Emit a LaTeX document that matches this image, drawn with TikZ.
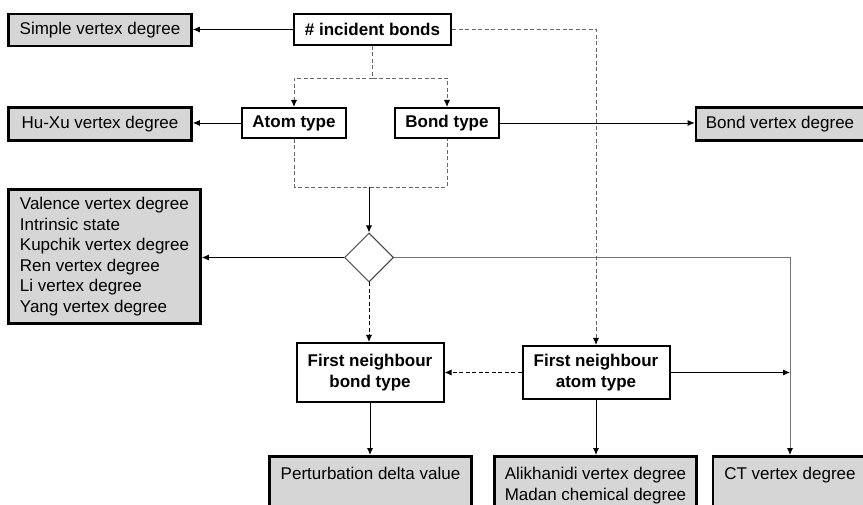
\documentclass[tikz,border=0pt]{standalone}
\usepackage{fontspec}
\setmainfont{Liberation Sans}
\usepackage{xcolor}
\usepackage{tikz}
\usetikzlibrary{positioning, shapes.geometric, arrows.meta}
\definecolor{boxgrey}{RGB}{214,214,214}
\tikzset{
	res/.style={draw=black, line width=2.6pt, fill=boxgrey, inner sep=0pt, font=\fontsize{17pt}{20.5pt}\selectfont},
	prop/.style={draw=black, line width=2pt, fill=white, inner sep=0pt, align=center, font=\bfseries\fontsize{17pt}{21.5pt}\selectfont},
	arr/.style={-{Latex[length=7pt,width=6pt,color=black]}, line width=0.9pt},
	dsh/.style={dash pattern=on 4pt off 2.5pt, line width=0.9pt},
	gdsh/.style={dsh, draw=black!60}
}

\begin{document}
\begin{tikzpicture}
		\useasboundingbox (0pt, 0pt) rectangle (863pt, -505pt);
		\clip (0pt, 0pt) rectangle (863pt, -505pt);

		\node[prop, minimum width=157pt, minimum height=31pt] (inc) at (372.5pt, -29.5pt) {\# incident bonds};
		\node[res, minimum width=183pt, minimum height=32pt] (simple) at (100pt, -30pt) {Simple vertex degree};

		\node[prop, minimum width=104pt, minimum height=30pt] (atom) at (294pt, -123pt) {Atom type};
		\node[prop, minimum width=104pt, minimum height=30pt] (bond) at (447pt, -123pt) {Bond type};
		\node[res, minimum width=183pt, minimum height=33pt] (huxu) at (100pt, -124pt) {Hu-Xu vertex degree};
		\node[res, minimum width=168pt, minimum height=33pt] (bvd) at (780pt, -124pt) {Bond vertex degree};

		\node[res, minimum width=192pt, minimum height=134pt, align=left] (val) at (104.5pt, -256.5pt) {Valence vertex degree\\Intrinsic state\\Kupchik vertex degree\\Ren vertex degree\\Li vertex degree\\Yang vertex degree};
		\node[draw=black!75, diamond, line width=1pt, minimum width=49pt, minimum height=49pt, inner sep=0pt] (dia) at (369pt, -257.5pt) {};

		\node[prop, minimum width=147pt, minimum height=59pt] (fnb) at (370pt, -372.5pt) {First neighbour\\bond type};
		\node[prop, minimum width=147pt, minimum height=53pt] (fna) at (596pt, -372.5pt) {First neighbour\\atom type};

		\node[res, anchor=north, minimum width=202pt, inner ysep=11pt, text depth=60pt, align=center] (pert) at (370.5pt, -455pt) {Perturbation delta value};
		\node[res, anchor=north, minimum width=202pt, inner ysep=11pt, text depth=60pt, align=center] (alik) at (595.5pt, -455pt) {Alikhanidi vertex degree\\Madan chemical degree};
		\node[res, anchor=north, minimum width=154pt, inner ysep=11pt, text depth=60pt, align=center] (ct) at (790pt, -455pt) {CT vertex degree};

		% top row
		\draw[arr] (inc.west) -- (inc.west -| simple.east);
		\draw[gdsh] (inc.south) -- ++(0pt, -32pt) coordinate (fork);
		\draw[gdsh, arr] (fork) -| (atom.north);
		\draw[gdsh, arr] (fork) -| (bond.north);
		\draw[arr] (atom.west) -- (atom.west -| huxu.east);
		\draw[arr] (bond.east) -- (bond.east -| bvd.west);
		\draw[gdsh, arr] (inc.east) -| (fna.north);

		% atom and bond type into the decision
		\draw[gdsh] (atom.south) -- ++(0pt, -48pt) coordinate (join) -- (join -| bond.south) -- (bond.south);
		\draw[arr] (dia.north |- join) -- (dia.north);
		\draw[arr] (dia.west) -- (dia.west -| val.east);
		\draw[arr, draw=black!55] (dia.east) -| (ct.north);
		\draw[dsh, arr] (dia.south) -- (dia.south |- fnb.north);

		% first neighbours
		\draw[dsh, arr] (fna.west) -- (fna.west -| fnb.east);
		\draw[arr] (fna.east) -- (fna.east -| ct.north);
		\draw[arr] (fnb.south) -- (fnb.south |- pert.north);
		\draw[arr] (fna.south) -- (fna.south |- alik.north);
	\end{tikzpicture}
\end{document}
